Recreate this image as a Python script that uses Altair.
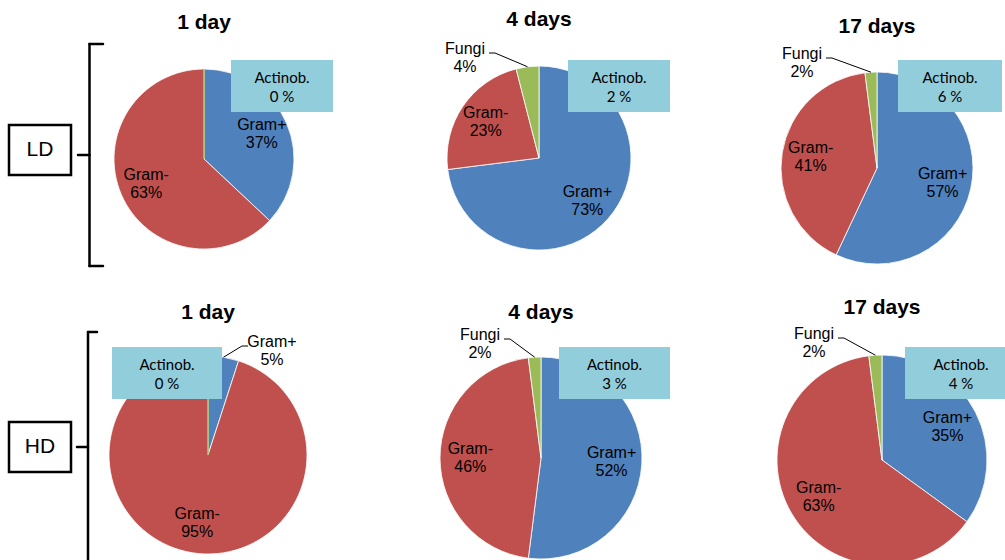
import math
import altair as alt
import pandas as pd

# ---- data -------------------------------------------------------------
panels = ["LD-1", "LD-4", "LD-17", "HD-1", "HD-4", "HD-17"]
titles = ["1 day", "4 days", "17 days", "1 day", "4 days", "17 days"]
groups = ["Gram+", "Gram-", "Fungi"]
gram_pos = [37, 73, 57, 5, 52, 35]
gram_neg = [63, 23, 41, 95, 46, 63]
fungi = [0, 4, 2, 0, 2, 2]
actinob = [0, 2, 6, 0, 3, 4]
treatments = ["LD", "HD"]

# ---- layout -----------------------------------------------------------
pie_cx = [204, 539, 877, 208, 541, 882]
pie_cy = [159, 158, 168, 455, 458, 460]
pie_r = [90, 92, 96, 99, 101, 105]
title_y = [23, 20, 27, 313, 313, 308]
# Actinob. callout boxes: left, top, right, bottom
callouts = [(231, 60, 333, 112), (568, 60, 670, 112), (898, 60, 1002, 112),
            (112, 347, 222, 399), (559, 347, 670, 399), (905, 347, 1017, 399)]
# labels placed outside the pie, offset of the label centre from the pie centre
outside = {(1, "Fungi"): (-74, -100), (2, "Fungi"): (-75, -105),
           (3, "Gram+"): (64, -104), (4, "Fungi"): (-61, -114),
           (5, "Fungi"): (-68, -117)}
treat_boxes = [(9, 125, 71, 175), (9, 422, 71, 472)]
brackets = [
    (89.5, 44, 89.5, 266), (89.5, 44, 103, 44), (89.5, 266, 103, 266), (78, 155, 89.5, 155),
    (88, 332, 88, 575), (88, 332, 97, 332), (77, 447, 88, 447),
]

COLORS = ["#4F81BD", "#C0504D", "#9BBB59"]
FONT = "Liberation Sans"

# ---- tables -----------------------------------------------------------
rows = []
for i, p in enumerate(panels):
    for k, (g, v) in enumerate(zip(groups, [gram_pos[i], gram_neg[i], fungi[i]])):
        off = outside.get((i, g))
        rows.append(dict(panel=p, grp=g, value=v, order=k,
                         cx=pie_cx[i], cy=pie_cy[i], r=pie_r[i],
                         out=1 if off else 0,
                         ldx=off[0] if off else 0, ldy=off[1] if off else 0))
slices = pd.DataFrame(rows)

titles_df = pd.DataFrame(dict(x=pie_cx, y=title_y, t=titles))
call_df = pd.DataFrame([dict(x=b[0], y=b[1], x2=b[2], y2=b[3],
                             mx=(b[0] + b[2]) / 2, ty1=b[1] + 18, ty2=b[1] + 37,
                             act=f"{a} %") for b, a in zip(callouts, actinob)])
treat_df = pd.DataFrame([dict(x=b[0], y=b[1], x2=b[2], y2=b[3],
                              mx=(b[0] + b[2]) / 2, my=(b[1] + b[3]) / 2, t=t)
                         for b, t in zip(treat_boxes, treatments)])
br_df = pd.DataFrame(brackets, columns=["x", "y", "x2", "y2"])


def px(field):
    return alt.X(field, scale=None, axis=None)


def py(field):
    return alt.Y(field, scale=None, axis=None)


base = (
    alt.Chart(slices)
    .transform_stack(stack="value", groupby=["panel"], as_=["v0", "v1"],
                     sort=[alt.SortField("order", order="ascending")])
    .transform_calculate(
        mid="(datum.v0 + datum.v1) / 2 * 2 * PI / 100",
        ex="datum.cx + datum.r * sin(datum.mid)",
        ey="datum.cy - datum.r * cos(datum.mid)",
        ix="datum.cx + 0.7 * datum.r * sin(datum.mid)",
        iy="datum.cy - 0.7 * datum.r * cos(datum.mid)",
        ox="datum.cx + datum.ldx",
        oy="datum.cy + datum.ldy",
        side="datum.ldx < 0 ? 1 : -1",
        pct="datum.value + '%'",
    )
    .transform_calculate(
        sx="datum.ox + datum.side * 24",
        kx="datum.ox + datum.side * 30",
        ly="datum.oy - 5",
    )
)

arcs = base.mark_arc(strokeWidth=0.8).encode(
    x=px("cx:Q"), y=py("cy:Q"),
    theta=alt.Theta("v0:Q", stack=None,
                    scale=alt.Scale(domain=[0, 100], range=[0, 2 * math.pi])),
    theta2="v1:Q",
    radius=alt.Radius("r:Q", scale=None),
    color=alt.Color("grp:N", scale=alt.Scale(domain=groups, range=COLORS), legend=None),
    stroke=alt.condition("datum.value == 0", alt.value("#9BBB59"), alt.value("white")),
)

inside = base.transform_filter("datum.out == 0 && datum.value > 0")
in_name = inside.mark_text(font=FONT, fontSize=16, dy=-9, color="black").encode(
    x=px("ix:Q"), y=py("iy:Q"), text="grp:N")
in_pct = inside.mark_text(font=FONT, fontSize=16, dy=9, color="black").encode(
    x=px("ix:Q"), y=py("iy:Q"), text="pct:N")

outer = base.transform_filter("datum.out == 1")
out_name = outer.mark_text(font=FONT, fontSize=16, dy=-9, color="black").encode(
    x=px("ox:Q"), y=py("oy:Q"), text="grp:N")
out_pct = outer.mark_text(font=FONT, fontSize=16, dy=9, color="black").encode(
    x=px("ox:Q"), y=py("oy:Q"), text="pct:N")
lead_h = outer.mark_rule(color="black", strokeWidth=1).encode(
    x=px("sx:Q"), x2="kx:Q", y=py("ly:Q"), y2="ly:Q")
lead_d = outer.mark_rule(color="black", strokeWidth=1).encode(
    x=px("kx:Q"), x2="ex:Q", y=py("ly:Q"), y2="ey:Q")

call_box = alt.Chart(call_df).mark_rect(fill="#92CDDC").encode(
    x=px("x:Q"), x2="x2:Q", y=py("y:Q"), y2="y2:Q")
call_t1 = alt.Chart(call_df).mark_text(font="Lato", fontSize=15, color="black").encode(
    x=px("mx:Q"), y=py("ty1:Q"), text=alt.value("Actinob."))
call_t2 = alt.Chart(call_df).mark_text(font="Lato", fontSize=15, color="black").encode(
    x=px("mx:Q"), y=py("ty2:Q"), text="act:N")

title_txt = alt.Chart(titles_df).mark_text(
    font=FONT, fontSize=21, fontWeight="bold", color="black").encode(
    x=px("x:Q"), y=py("y:Q"), text="t:N")

bracket = alt.Chart(br_df).mark_rule(color="black", strokeWidth=2.5, strokeCap="round").encode(
    x=px("x:Q"), x2="x2:Q", y=py("y:Q"), y2="y2:Q")
treat_box = alt.Chart(treat_df).mark_rect(fill="white", stroke="black", strokeWidth=2.5).encode(
    x=px("x:Q"), x2="x2:Q", y=py("y:Q"), y2="y2:Q")
treat_txt = alt.Chart(treat_df).mark_text(font=FONT, fontSize=21, color="black").encode(
    x=px("mx:Q"), y=py("my:Q"), text="t:N")

chart = alt.layer(
    arcs, in_name, in_pct, lead_h, lead_d, out_name, out_pct,
    call_box, call_t1, call_t2, title_txt, bracket, treat_box, treat_txt,
).properties(
    width=1005, height=560, padding=0,
    autosize=alt.AutoSizeParams(type="none"),
    background="white",
).configure_view(stroke=None)

chart.save("out.html", embed_options={"renderer": "svg", "actions": False})
